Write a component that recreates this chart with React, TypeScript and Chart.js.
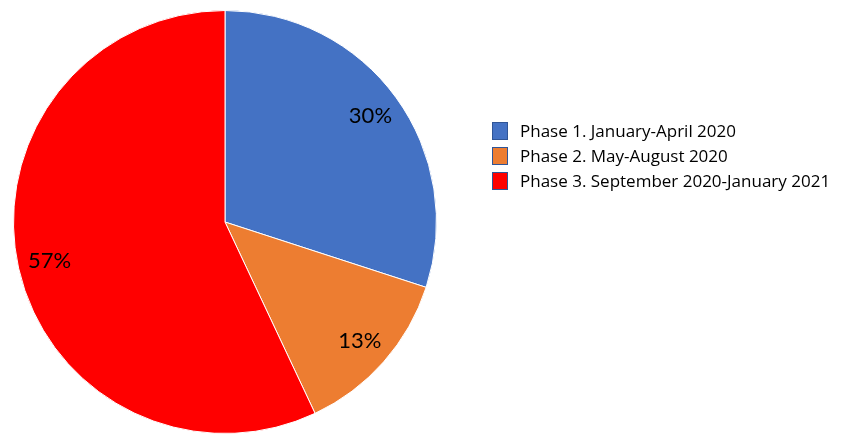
import React, { useEffect, useRef } from "react";
import { Chart, registerables } from "chart.js";

Chart.register(...registerables);

const categories = [
  "Phase 1. January-April 2020",
  "Phase 2. May-August 2020",
  "Phase 3. September 2020-January 2021",
];
const shares = [30, 13, 57];
const colors = ["#4472C4", "#ED7D31", "#FF0000"];

const LABEL_FONT = "Lato, 'Open Sans', sans-serif";
const LEGEND_FONT = "'Open Sans', Lato, sans-serif";

const labelPlugin = {
  id: "sliceLabels",
  afterDatasetsDraw(chart: any) {
    const ctx = chart.ctx;
    const meta = chart.getDatasetMeta(0);
    ctx.save();
    ctx.font = `22px ${LABEL_FONT}`;
    ctx.fillStyle = "#000";
    ctx.textAlign = "center";
    ctx.textBaseline = "middle";
    meta.data.forEach((arc: any, i: number) => {
      const p = arc.getProps(["x", "y", "startAngle", "endAngle", "outerRadius"], true);
      const mid = (p.startAngle + p.endAngle) / 2;
      const r = p.outerRadius * 0.85;
      ctx.fillText(`${shares[i]}%`, p.x + Math.cos(mid) * r, p.y + Math.sin(mid) * r);
    });
    ctx.restore();
  },
};

const legendPlugin = {
  id: "sideLegend",
  afterDraw(chart: any) {
    const ctx = chart.ctx;
    const x0 = 492;
    const y0 = 131;
    const step = 25;
    ctx.save();
    ctx.font = `17px ${LEGEND_FONT}`;
    ctx.textBaseline = "middle";
    ctx.textAlign = "left";
    chart.data.labels.forEach((lab: string, i: number) => {
      const cy = y0 + i * step;
      ctx.fillStyle = colors[i];
      ctx.fillRect(x0, cy - 9, 16, 18);
      ctx.strokeStyle = "#2F5597";
      ctx.lineWidth = 1;
      ctx.strokeRect(x0 + 0.5, cy - 8.5, 15, 17);
      ctx.fillStyle = "#000";
      ctx.fillText(lab, 520, cy + 1);
    });
    ctx.restore();
  },
};

export default function App() {
  const ref = useRef<HTMLCanvasElement | null>(null);
  useEffect(() => {
    document.body.style.margin = "0";
    const chart = new Chart(ref.current as HTMLCanvasElement, {
      type: "pie",
      data: {
        labels: categories,
        datasets: [
          {
            data: shares,
            backgroundColor: colors,
            borderColor: "#ffffff",
            borderWidth: 1,
            hoverOffset: 0,
            offset: 0,
          },
        ],
      },
      options: {
        responsive: false,
        animation: false,
        events: [],
        layout: { padding: { left: 13, right: 405, top: 10, bottom: 0 } },
        plugins: {
          legend: { display: false },
          tooltip: { enabled: false },
        },
      },
      plugins: [labelPlugin, legendPlugin],
    });
    return () => chart.destroy();
  }, []);
  return (
    <div style={{ position: "absolute", left: 0, top: 0, width: 842, height: 434, background: "#fff" }}>
      <canvas ref={ref} width={842} height={434} style={{ width: 842, height: 434 }} />
    </div>
  );
}
